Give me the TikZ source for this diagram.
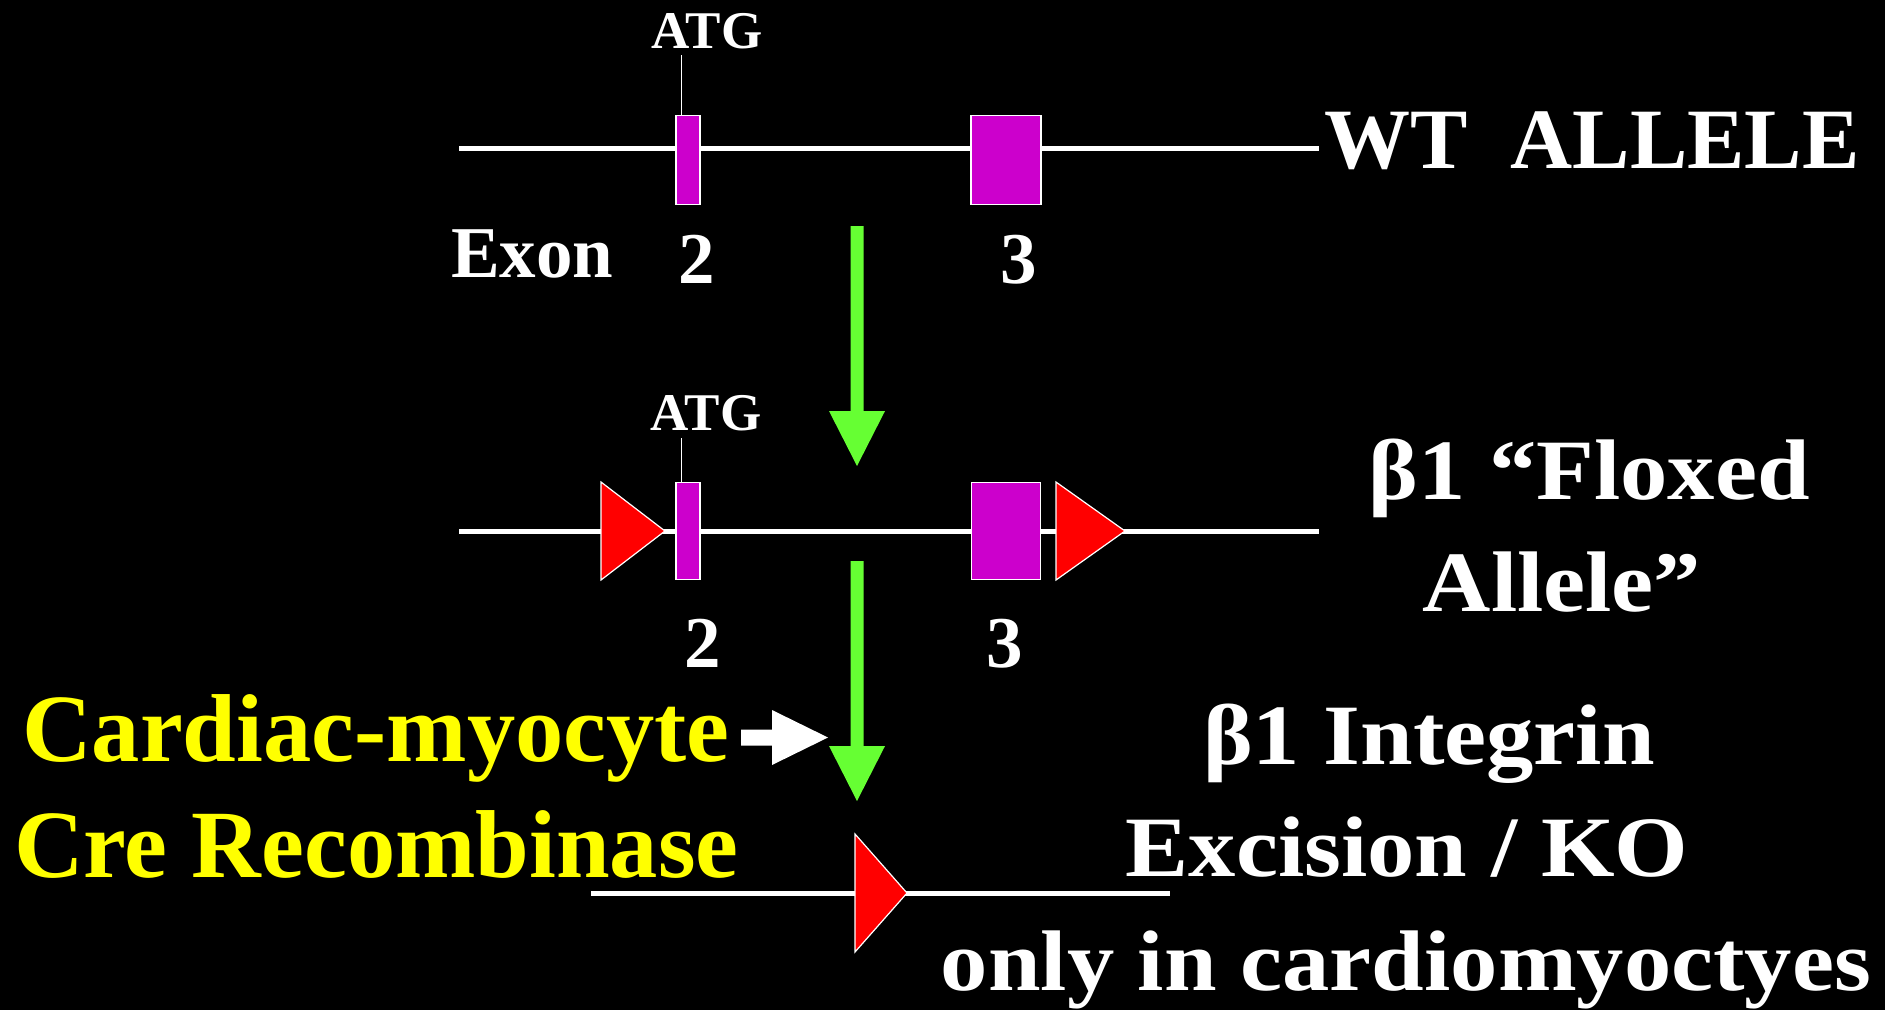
\documentclass[tikz,border=0pt]{standalone}
\usepackage{fontspec}
\setmainfont{Liberation Serif}
\newfontfamily\widefont[FakeStretch=1.1]{Liberation Serif}

\definecolor{exonmag}{RGB}{204, 0, 204}
\definecolor{loxred}{RGB}{255, 0, 0}
\definecolor{stepgreen}{RGB}{102, 255, 51}
\definecolor{creyellow}{RGB}{255, 255, 0}

\begin{document}
\begin{tikzpicture}[
    x=1pt, y=-1pt,
    dna/.style={white, line width=5pt},
    exon/.style={draw=white, line width=1.5pt, fill=exonmag, inner sep=0pt},
    loxp/.style={draw=white, line width=1.2pt, fill=loxred},
    tick/.style={white, line width=1.2pt},
    atg/.style={white, inner sep=0pt, anchor=base, font=\bfseries\fontsize{53}{60}\selectfont},
    lbl/.style={white, inner sep=0pt, anchor=base, font=\bfseries\fontsize{73}{80}\selectfont},
    big/.style={white, inner sep=0pt, anchor=base, font=\widefont\bfseries\fontsize{86}{100}\selectfont},
    cre/.style={creyellow, inner sep=0pt, anchor=base west, font=\bfseries\fontsize{96.5}{110}\selectfont},
  ]
    % background and fixed frame
    \fill[black] (0,0) rectangle (1885,1010);
    \useasboundingbox (0,0) rectangle (1885,1010);

    % === WT allele ===
    \coordinate (wtL) at (459,148);
    \coordinate (wtR) at (1319,148);
    \draw[dna] (wtL) -- (wtR);
    \node[exon, minimum width=24pt, minimum height=89pt] (exA2) at (688,160) {};
    \node[exon, minimum width=70pt, minimum height=89pt] (exA3) at (1006,160) {};
    \node[atg] (atgA) at (707,48) {ATG};
    \draw[tick] ([xshift=6pt]exA2.north west) -- ++(0,-60);
    \node[white, inner sep=0pt, anchor=base west, font=\bfseries\fontsize{86}{100}\selectfont]
      (wtT) at (1324,168) {WT~~ALLELE};
    \node[lbl, anchor=base west] (exonT) at (451,277) {Exon};
    \node[lbl] (nA2) at (697,283) {2};
    \node[lbl] (nA3) at (1019,283) {3};

    % green step arrows
    \foreach \ytop in {226,561} {
      \fill[stepgreen] (850.5,\ytop) -- ++(13,0) -- ++(0,185) -- ++(21.5,0)
        -- ++(-28,55) -- ++(-28,-55) -- ++(21.5,0) -- cycle;
    }

    % === Floxed allele ===
    \coordinate (flL) at (459,531);
    \coordinate (flR) at (1319,531);
    \draw[dna] (flL) -- (flR);
    \draw[loxp] (601,482) -- ++(64,49) -- ++(-64,49) -- cycle;
    \node[exon, minimum width=24pt, minimum height=97pt] (exB2) at (688,531) {};
    \node[exon, minimum width=69pt, minimum height=97pt] (exB3) at (1006,531) {};
    \draw[loxp] (1056,482) -- ++(69,49) -- ++(-69,49) -- cycle;
    \node[atg] (atgB) at (706,430) {ATG};
    \draw[tick] ([xshift=6pt]exB2.north west) -- ++(0,-44);
    \node[lbl] (nB2) at (703,667) {2};
    \node[lbl] (nB3) at (1005,667) {3};
    \node[big] (floxT1) at (1589,499) {β1 “Floxed};
    \node[big] (floxT2) at (1562,611) {Allele”};

    % === Cre step ===
    \node[cre] (creT1) at (22,761) {Cardiac-myocyte};
    \node[cre] (creT2) at (14,877) {Cre Recombinase};
    \fill[white] (741,729.5) -- ++(31,0) -- ++(0,-19.5) -- ++(56,27.5)
      -- ++(-56,27.5) -- ++(0,-19.5) -- ++(-31,0) -- cycle;

    % === Excised allele ===
    \coordinate (koL) at (591,893);
    \coordinate (koR) at (1170,893);
    \draw[dna] (koL) -- (koR);
    \draw[loxp] (855,834) -- ++(52,59) -- ++(-52,59) -- cycle;
    \node[big] (koT1) at (1429,764) {β1 Integrin};
    \node[big] (koT2) at (1407,876) {Excision / KO};
    \node[big] (koT3) at (1406,990) {only in cardiomyoctyes};
\end{tikzpicture}
\end{document}
